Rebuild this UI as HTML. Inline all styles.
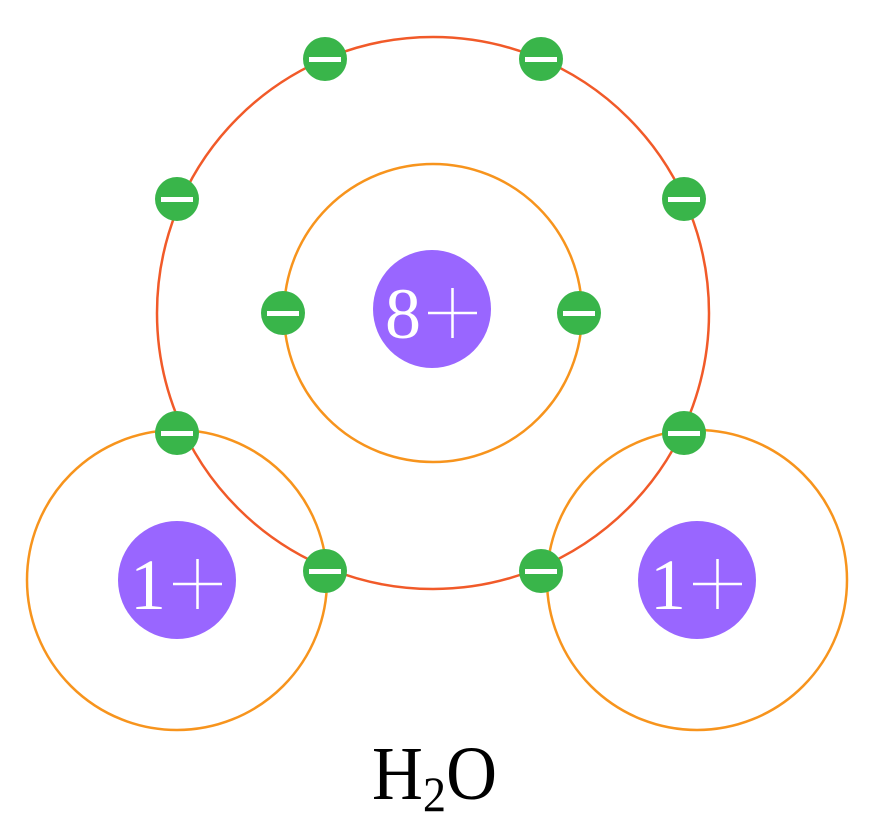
<!DOCTYPE html>
<html><head><style>html,body{margin:0;padding:0;background:#fff;}</style></head>
<body>
<svg width="876" height="824" viewBox="0 0 876 824" xmlns="http://www.w3.org/2000/svg">
<g fill="none" stroke-width="2.5">
<circle cx="433" cy="313" r="276" stroke="#f15a29"/>
<circle cx="433" cy="313" r="149" stroke="#f7941d"/>
<circle cx="177" cy="580" r="150" stroke="#f7941d"/>
<circle cx="697" cy="580" r="150" stroke="#f7941d"/>
</g>
<g fill="#9966ff">
<circle cx="432" cy="309" r="59"/>
<circle cx="177" cy="580" r="59"/>
<circle cx="697" cy="580" r="59"/>
</g>
<g fill="#fff" font-family="Liberation Serif, serif" font-size="72" text-anchor="middle">
<text x="403" y="338">8</text>
<text x="148" y="609">1</text>
<text x="668" y="609">1</text>
</g>
<g stroke="#fff" stroke-width="2.5">
<path d="M428 313H477M452.5 288V338"/>
<path d="M173 584H222M197.5 559V609"/>
<path d="M693 584H742M717.5 559V609"/>
</g>
<g fill="#39b54a">
<circle cx="325" cy="59" r="22"/><circle cx="541" cy="59" r="22"/>
<circle cx="177" cy="199" r="22"/><circle cx="684" cy="199" r="22"/>
<circle cx="283" cy="313" r="22"/><circle cx="579" cy="313" r="22"/>
<circle cx="177" cy="433" r="22"/><circle cx="684" cy="433" r="22"/>
<circle cx="325" cy="571" r="22"/><circle cx="541" cy="571" r="22"/>
</g>
<g fill="#fff">
<rect x="309" y="57" width="32" height="5"/><rect x="525" y="57" width="32" height="5"/>
<rect x="161" y="197" width="32" height="5"/><rect x="668" y="197" width="32" height="5"/>
<rect x="267" y="311" width="32" height="5"/><rect x="563" y="311" width="32" height="5"/>
<rect x="161" y="431" width="32" height="5"/><rect x="668" y="431" width="32" height="5"/>
<rect x="309" y="569" width="32" height="5"/><rect x="525" y="569" width="32" height="5"/>
</g>
<text x="372" y="799" font-family="Liberation Serif, serif" font-size="76" fill="#000" textLength="125" lengthAdjust="spacingAndGlyphs">H<tspan font-size="50" dy="12">2</tspan><tspan dy="-12">O</tspan></text>
</svg>
</body></html>
